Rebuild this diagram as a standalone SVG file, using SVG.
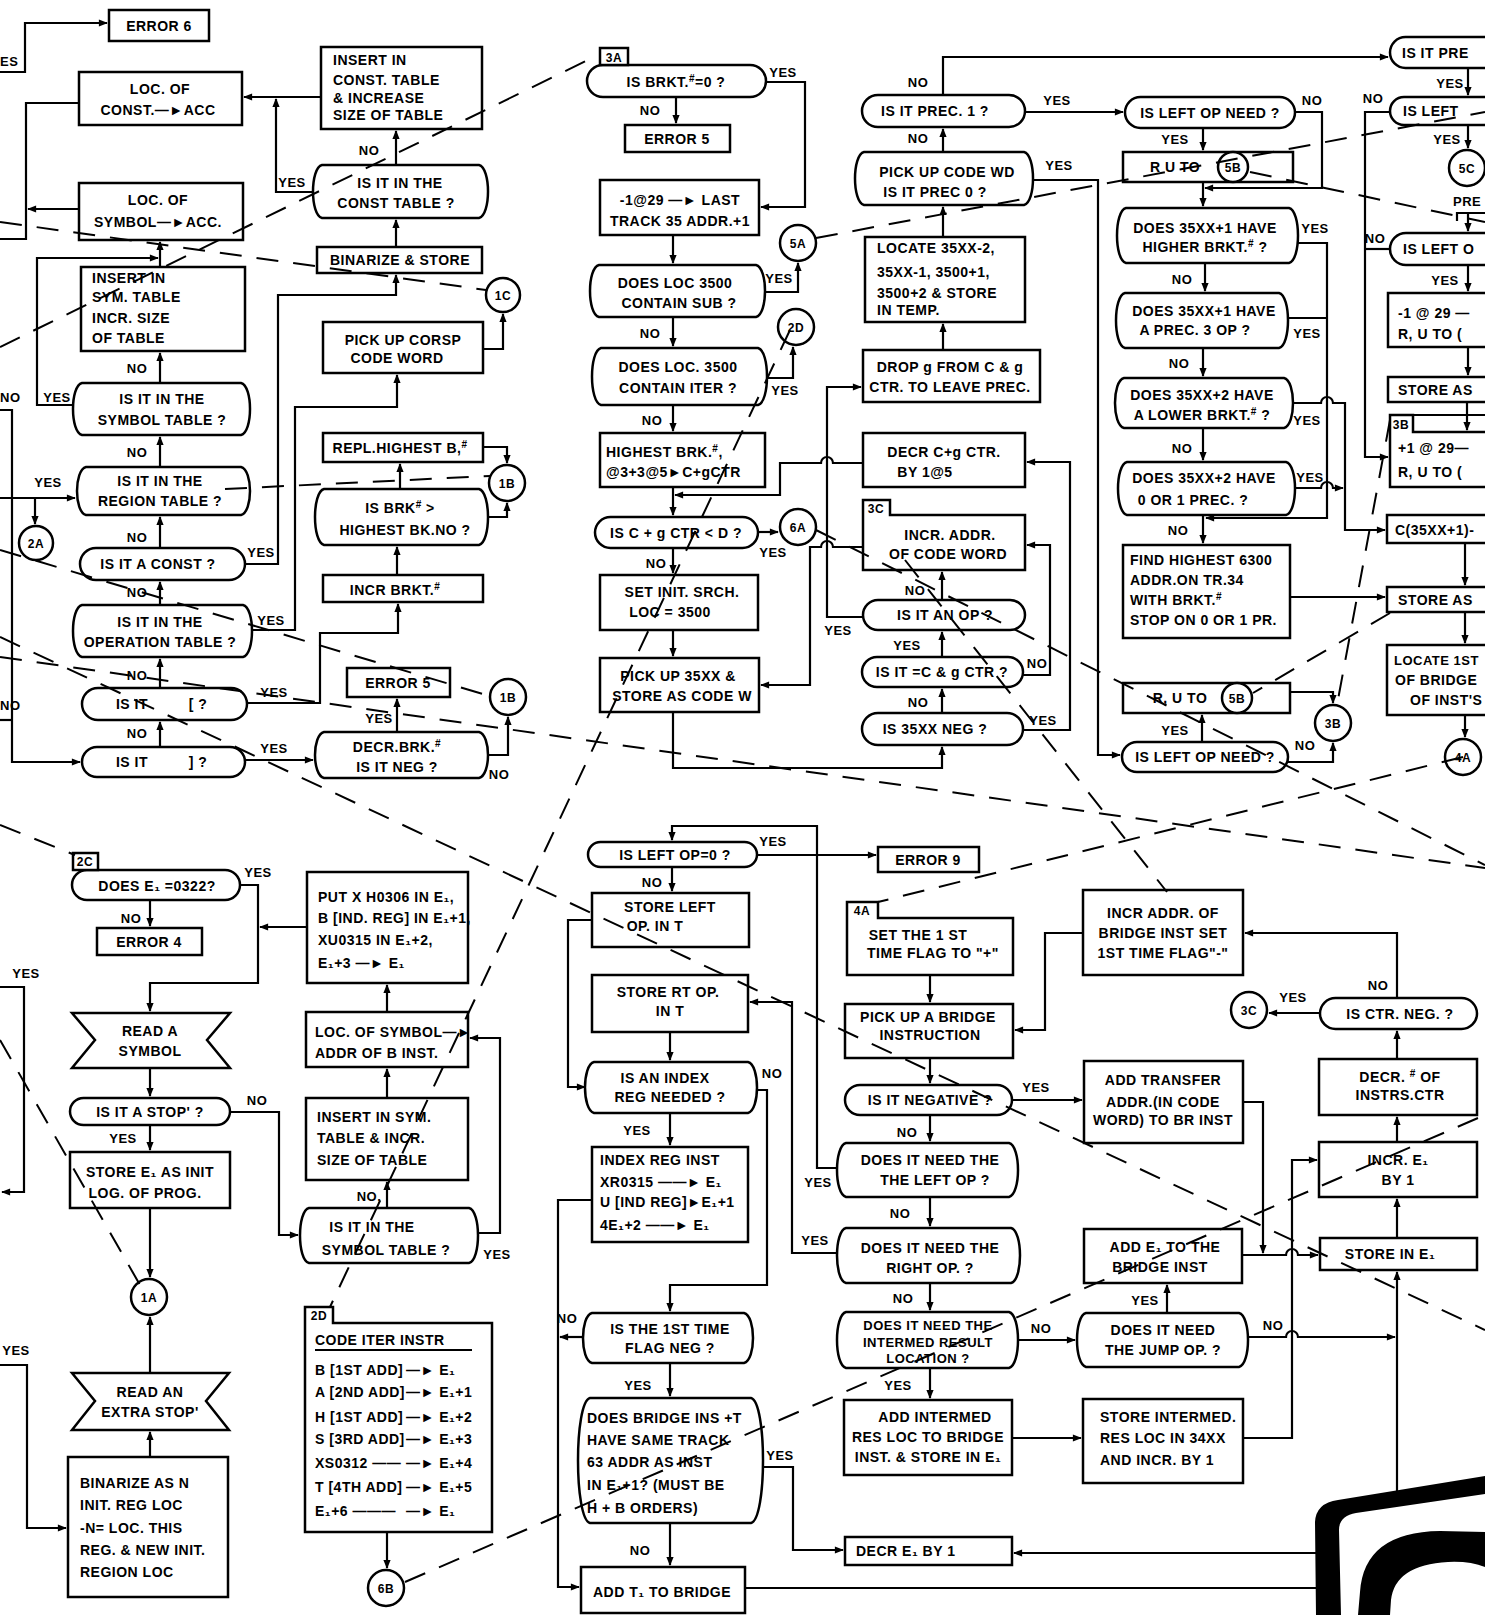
<svg xmlns="http://www.w3.org/2000/svg" width="1485" height="1615" viewBox="0 0 1485 1615">
<defs>
<style>
.b{fill:#fff;stroke:#000;stroke-width:2.5}
.c{fill:none;stroke:#000;stroke-width:2.2}
.ca{fill:none;stroke:#000;stroke-width:2.2;marker-end:url(#a)}
.d{fill:none;stroke:#000;stroke-width:2;stroke-dasharray:22 15}
text{font-family:"Liberation Sans","DejaVu Sans",Arial,sans-serif;font-weight:bold;font-size:14px;fill:#000;letter-spacing:.5px}
.m{text-anchor:middle}
.l{font-size:13px}
.k{font-size:12px}
.s{font-size:10px}
</style>
<marker id="a" viewBox="0 0 10 10" refX="9" refY="5" markerWidth="10" markerHeight="9" markerUnits="userSpaceOnUse" orient="auto"><path d="M0,1 L10,5 L0,9 Z"/></marker>
</defs>
<rect width="1485" height="1615" fill="#fff"/>

<!-- ============ NODES ============ -->
<g id="n-error6"><rect class="b" x="109" y="10" width="100" height="31"/><text class="m" x="159" y="31">ERROR 6</text></g>
<g id="n-locconst"><rect class="b" x="79" y="72" width="163" height="53"/><text class="m" x="160" y="94">LOC. OF</text><text class="m" x="158" y="115">CONST.—►ACC</text></g>
<g id="n-insconst"><rect class="b" x="321" y="47" width="161" height="82"/><text x="333" y="65">INSERT IN</text><text x="333" y="85">CONST. TABLE</text><text x="333" y="103">&amp; INCREASE</text><text x="333" y="120">SIZE OF TABLE</text></g>
<g id="n-constq"><path class="b" d="M322,165 H479 C491,168 491,215 479,218 H322 C310,215 310,168 322,165Z"/><text class="m" x="400" y="188">IS IT IN THE</text><text class="m" x="396" y="208">CONST TABLE ?</text></g>
<g id="n-binarize"><rect class="b" x="317" y="247" width="165" height="26"/><text class="m" x="400" y="265">BINARIZE &amp; STORE</text></g>
<g id="n-locsym"><rect class="b" x="79" y="183" width="164" height="57"/><text class="m" x="158" y="205">LOC. OF</text><text class="m" x="158" y="227">SYMBOL—►ACC.</text></g>
<g id="n-inssym"><rect class="b" x="81" y="267" width="164" height="84"/><text x="92" y="283">INSERT IN</text><text x="92" y="302">SYM. TABLE</text><text x="92" y="323">INCR. SIZE</text><text x="92" y="343">OF TABLE</text></g>
<g id="n-symq"><path class="b" d="M82,383 H241 C253,386 253,432 241,435 H82 C70,432 70,386 82,383Z"/><text class="m" x="162" y="404">IS IT IN THE</text><text class="m" x="162" y="425">SYMBOL TABLE ?</text></g>
<g id="n-regq"><path class="b" d="M86,467 H241 C253,470 253,512 241,515 H86 C74,512 74,470 86,467Z"/><text class="m" x="160" y="486">IS IT IN THE</text><text class="m" x="160" y="506">REGION TABLE ?</text></g>
<g id="n-constp"><rect class="b" x="80" y="548" width="165" height="32" rx="16"/><text class="m" x="158" y="569">IS IT A CONST ?</text></g>
<g id="n-opq"><path class="b" d="M82,605 H243 C255,608 255,654 243,657 H82 C70,654 70,608 82,605Z"/><text class="m" x="160" y="627">IS IT IN THE</text><text class="m" x="160" y="647">OPERATION TABLE ?</text></g>
<g id="n-lbr"><rect class="b" x="82" y="688" width="165" height="32" rx="16"/><text class="m" x="132" y="709">IS IT</text><text class="m" x="198" y="709">[ ?</text></g>
<g id="n-rbr"><rect class="b" x="82" y="747" width="163" height="30" rx="15"/><text class="m" x="132" y="767">IS IT</text><text class="m" x="198" y="767">] ?</text></g>
<g id="n-corsp"><rect class="b" x="323" y="322" width="160" height="51"/><text class="m" x="403" y="345">PICK UP CORSP</text><text class="m" x="397" y="363">CODE WORD</text></g>
<g id="n-repl"><rect class="b" x="323" y="433" width="160" height="29"/><text class="m" x="400" y="453">REPL.HIGHEST B,<tspan class="s" dy="-5">#</tspan></text></g>
<g id="n-brkq"><path class="b" d="M324,489 H479 C491,492 491,542 479,545 H324 C312,542 312,492 324,489Z"/><text class="m" x="400" y="513">IS BRK<tspan class="s" dy="-5">#</tspan><tspan dy="5"> &gt;</tspan></text><text class="m" x="405" y="535">HIGHEST BK.NO ?</text></g>
<g id="n-incrbrkt"><rect class="b" x="323" y="575" width="160" height="27"/><text class="m" x="395" y="595">INCR BRKT.<tspan class="s" dy="-5">#</tspan></text></g>
<g id="n-err5a"><rect class="b" x="347" y="668" width="103" height="29"/><text class="m" x="398" y="688">ERROR 5</text></g>
<g id="n-decrbrk"><path class="b" d="M324,732 H479 C491,735 491,775 479,778 H324 C312,775 312,735 324,732Z"/><text class="m" x="397" y="752">DECR.BRK.<tspan class="s" dy="-5">#</tspan></text><text class="m" x="397" y="772">IS IT NEG ?</text></g>
<g id="n-c1c"><circle class="b" cx="503" cy="295" r="17"/><text class="m k" x="503" y="300">1C</text></g>
<g id="n-c1b"><circle class="b" cx="507" cy="483" r="18"/><text class="m k" x="507" y="488">1B</text></g>
<g id="n-c1b2"><circle class="b" cx="508" cy="697" r="18"/><text class="m k" x="508" y="702">1B</text></g>
<g id="n-c2a"><circle class="b" cx="36" cy="543" r="17"/><text class="m k" x="36" y="548">2A</text></g>

<g id="n-brkt0"><rect class="b" x="587" y="65" width="179" height="32" rx="16"/><rect class="b" x="600" y="48" width="28" height="17"/><text class="m k" x="614" y="62">3A</text><text class="m" x="676" y="87">IS BRKT.<tspan class="s" dy="-5">#</tspan><tspan dy="5">=0 ?</tspan></text></g>
<g id="n-err5b"><rect class="b" x="625" y="125" width="105" height="27"/><text class="m" x="677" y="144">ERROR 5</text></g>
<g id="n-m129"><rect class="b" x="600" y="180" width="159" height="55"/><text class="m" x="680" y="205">-1@29 —► LAST</text><text class="m" x="680" y="226">TRACK 35 ADDR.+1</text></g>
<g id="n-subq"><path class="b" d="M599,265 H756 C768,268 768,314 756,317 H599 C587,314 587,268 599,265Z"/><text class="m" x="675" y="288">DOES LOC 3500</text><text class="m" x="679" y="308">CONTAIN SUB ?</text></g>
<g id="n-iterq"><path class="b" d="M601,348 H758 C770,351 770,402 758,405 H601 C589,402 589,351 601,348Z"/><text class="m" x="678" y="372">DOES LOC. 3500</text><text class="m" x="678" y="393">CONTAIN ITER ?</text></g>
<g id="n-c5a"><circle class="b" cx="798" cy="243" r="18"/><text class="m k" x="798" y="248">5A</text></g>
<g id="n-c2d"><circle class="b" cx="796" cy="327" r="18"/><text class="m k" x="796" y="332">2D</text></g>
<g id="n-highest"><rect class="b" x="600" y="433" width="165" height="54"/><text x="606" y="457">HIGHEST  BRK.<tspan class="s" dy="-5">#</tspan><tspan dy="5">,</tspan></text><text x="606" y="477">@3+3@5►C+gCTR</text></g>
<g id="n-cgq"><rect class="b" x="595" y="517" width="163" height="31" rx="15.5"/><text class="m" x="676" y="538">IS C + g  CTR &lt; D ?</text></g>
<g id="n-c6a"><circle class="b" cx="798" cy="527" r="18"/><text class="m k" x="798" y="532">6A</text></g>
<g id="n-setinit"><rect class="b" x="600" y="575" width="158" height="55"/><text class="m" x="682" y="597">SET INIT. SRCH.</text><text class="m" x="670" y="617">LOC  = 3500</text></g>
<g id="n-pick35"><rect class="b" x="600" y="658" width="159" height="54"/><text class="m" x="678" y="681">PICK UP 35XX &amp;</text><text class="m" x="682" y="701">STORE AS CODE W</text></g>

<g id="n-prec1"><rect class="b" x="862" y="95" width="163" height="32" rx="16"/><text class="m" x="935" y="116">IS IT PREC. 1 ?</text></g>
<g id="n-prec0"><path class="b" d="M864,152 H1024 C1036,155 1036,202 1024,205 H864 C852,202 852,155 864,152Z"/><text class="m" x="947" y="177">PICK UP CODE WD</text><text class="m" x="935" y="197">IS IT PREC 0 ?</text></g>
<g id="n-locate"><rect class="b" x="865" y="237" width="160" height="85"/><text x="877" y="253">LOCATE 35XX-2,</text><text x="877" y="277">35XX-1, 3500+1,</text><text x="877" y="298">3500+2 &amp; STORE</text><text x="877" y="315">IN TEMP.</text></g>
<g id="n-drop"><rect class="b" x="863" y="350" width="177" height="52"/><text class="m" x="950" y="372">DROP g FROM C &amp; g</text><text class="m" x="950" y="392">CTR. TO LEAVE PREC.</text></g>
<g id="n-decrcg"><rect class="b" x="863" y="433" width="162" height="54"/><text class="m" x="944" y="457">DECR  C+g  CTR.</text><text class="m" x="925" y="477">BY 1@5</text></g>
<g id="n-incraddr"><path class="b" d="M863,570 V500 H890 V515 H1025 V570 Z"/><text class="m k" x="876" y="513">3C</text><text class="m" x="950" y="540">INCR. ADDR.</text><text class="m" x="948" y="559">OF CODE WORD</text></g>
<g id="n-anop"><rect class="b" x="863" y="600" width="162" height="30" rx="15"/><text class="m" x="945" y="620">IS IT AN OP ?</text></g>
<g id="n-cgctr"><rect class="b" x="862" y="657" width="161" height="30" rx="15"/><text class="m" x="942" y="677">IS IT =C &amp; g CTR ?</text></g>
<g id="n-neg35"><rect class="b" x="862" y="713" width="161" height="32" rx="16"/><text class="m" x="935" y="734">IS 35XX NEG ?</text></g>

<g id="n-leftop1"><rect class="b" x="1125" y="97" width="170" height="31" rx="15.5"/><text class="m" x="1210" y="118">IS LEFT OP NEED ?</text></g>
<g id="n-ruto1"><rect class="b" x="1123" y="152" width="170" height="30"/><text class="m" x="1175" y="172">R U TO</text><circle class="b" cx="1233" cy="167" r="15"/><text class="m k" x="1233" y="172">5B</text></g>
<g id="n-higher"><path class="b" d="M1126,208 H1289 C1301,211 1301,260 1289,263 H1126 C1114,260 1114,211 1126,208Z"/><text class="m" x="1205" y="233">DOES 35XX+1 HAVE</text><text class="m" x="1205" y="252">HIGHER BRKT.<tspan class="s" dy="-5">#</tspan><tspan dy="5"> ?</tspan></text></g>
<g id="n-prec3"><path class="b" d="M1125,293 H1279 C1291,296 1291,345 1279,348 H1125 C1113,345 1113,296 1125,293Z"/><text class="m" x="1204" y="316">DOES 35XX+1 HAVE</text><text class="m" x="1195" y="335">A PREC. 3  OP ?</text></g>
<g id="n-lower"><path class="b" d="M1124,378 H1284 C1296,381 1296,425 1284,428 H1124 C1112,425 1112,381 1124,378Z"/><text class="m" x="1202" y="400">DOES 35XX+2 HAVE</text><text class="m" x="1202" y="420">A LOWER BRKT.<tspan class="s" dy="-5">#</tspan><tspan dy="5"> ?</tspan></text></g>
<g id="n-zeroone"><path class="b" d="M1127,462 H1286 C1298,465 1298,512 1286,515 H1127 C1115,512 1115,465 1127,462Z"/><text class="m" x="1204" y="483">DOES 35XX+2 HAVE</text><text class="m" x="1193" y="505">0 OR 1 PREC. ?</text></g>
<g id="n-find"><rect class="b" x="1123" y="545" width="167" height="93"/><text x="1130" y="565">FIND HIGHEST 6300</text><text x="1130" y="585">ADDR.ON TR.34</text><text x="1130" y="605">WITH   BRKT.<tspan class="s" dy="-5">#</tspan></text><text x="1130" y="625">STOP ON 0 OR 1 PR.</text></g>
<g id="n-ruto2"><rect class="b" x="1123" y="683" width="167" height="30"/><text class="m" x="1180" y="703">R, U TO</text><circle class="b" cx="1237" cy="698" r="15"/><text class="m k" x="1237" y="703">5B</text></g>
<g id="n-leftop2"><rect class="b" x="1122" y="742" width="166" height="30" rx="15"/><text class="m" x="1205" y="762">IS LEFT OP NEED ?</text></g>
<g id="n-c3b"><circle class="b" cx="1333" cy="723" r="18"/><text class="m k" x="1333" y="728">3B</text></g>

<g id="n-fr1"><rect class="b" x="1390" y="37" width="140" height="31" rx="15.5"/><text x="1402" y="58">IS IT PRE</text></g>
<g id="n-fr2"><rect class="b" x="1390" y="97" width="140" height="28" rx="14"/><text x="1403" y="116">IS LEFT</text></g>
<g id="n-c5c"><circle class="b" cx="1467" cy="168" r="18"/><text class="m k" x="1467" y="173">5C</text></g>
<g id="n-fr3"><text class="l" x="1453" y="206" letter-spacing="0">PRE</text></g>
<g id="n-fr4"><rect class="b" x="1390" y="233" width="140" height="32" rx="16"/><text x="1403" y="254">IS LEFT O</text></g>
<g id="n-fr5"><rect class="b" x="1388" y="293" width="150" height="54"/><text x="1398" y="318">-1 @ 29 —</text><text x="1398" y="339">R, U  TO  (</text></g>
<g id="n-fr6"><rect class="b" x="1388" y="377" width="150" height="25"/><text x="1398" y="395">STORE  AS</text></g>
<g id="n-fr7"><path class="b" d="M1535,432 H1413 V415 H1390 V487 H1535"/><text class="m k" x="1401" y="429">3B</text><text x="1398" y="453">+1 @ 29—</text><text x="1398" y="477">R, U  TO  (</text></g>
<g id="n-fr8"><rect class="b" x="1387" y="515" width="150" height="28"/><text x="1395" y="535">C(35XX+1)-</text></g>
<g id="n-fr9"><rect class="b" x="1387" y="587" width="150" height="25"/><text x="1398" y="605">STORE  AS</text></g>
<g id="n-fr10"><rect class="b" x="1387" y="645" width="150" height="70"/><text class="l" x="1394" y="665" letter-spacing="0">LOCATE 1ST</text><text x="1395" y="685">OF BRIDGE</text><text x="1410" y="705">OF INST'S</text></g>
<g id="n-c4a"><circle class="b" cx="1463" cy="757" r="18"/><text class="m k" x="1463" y="762">4A</text></g>

<g id="n-e0322"><rect class="b" x="72" y="870" width="168" height="30" rx="15"/><rect class="b" x="73" y="853" width="25" height="17"/><text class="m k" x="85" y="866">2C</text><text class="m" x="157" y="891">DOES E₁ =0322?</text></g>
<g id="n-err4"><rect class="b" x="97" y="928" width="105" height="27"/><text class="m" x="149" y="947">ERROR 4</text></g>
<g id="n-readsym"><path class="b" d="M72,1013 H230 L207,1040 L230,1068 H72 L95,1040 Z"/><text class="m" x="150" y="1036">READ A</text><text class="m" x="150" y="1056">SYMBOL</text></g>
<g id="n-stopq"><rect class="b" x="70" y="1098" width="160" height="27" rx="13.5"/><text class="m" x="150" y="1117">IS IT A STOP' ?</text></g>
<g id="n-storee1"><rect class="b" x="70" y="1152" width="160" height="56"/><text class="m" x="150" y="1177">STORE E₁ AS INIT</text><text class="m" x="145" y="1198">LOG. OF PROG.</text></g>
<g id="n-c1a"><circle class="b" cx="149" cy="1297" r="18"/><text class="m k" x="149" y="1302">1A</text></g>
<g id="n-readextra"><path class="b" d="M72,1373 H229 L206,1401 L229,1430 H72 L95,1401 Z"/><text class="m" x="150" y="1397">READ AN</text><text class="m" x="150" y="1417">EXTRA STOP'</text></g>
<g id="n-binn"><rect class="b" x="68" y="1457" width="160" height="140"/><text x="80" y="1488">BINARIZE AS N</text><text x="80" y="1510">INIT. REG LOC</text><text x="80" y="1533">-N= LOC. THIS</text><text x="80" y="1555">REG. &amp; NEW INIT.</text><text x="80" y="1577">REGION LOC</text></g>
<g id="n-putx"><rect class="b" x="307" y="872" width="161" height="111"/><text x="318" y="902">PUT X H0306 IN E₁,</text><text x="318" y="923" letter-spacing="0">B [IND. REG] IN E₁+1,</text><text x="318" y="945">XU0315 IN E₁+2,</text><text x="318" y="968">E₁+3 —► E₁</text></g>
<g id="n-locsym2"><rect class="b" x="306" y="1012" width="162" height="55"/><text x="315" y="1037">LOC. OF SYMBOL—►</text><text x="315" y="1058">ADDR OF B INST.</text></g>
<g id="n-inssym2"><rect class="b" x="306" y="1098" width="162" height="82"/><text x="317" y="1122">INSERT IN SYM.</text><text x="317" y="1143">TABLE &amp; INCR.</text><text x="317" y="1165">SIZE OF TABLE</text></g>
<g id="n-symq2"><path class="b" d="M309,1208 H469 C481,1211 481,1260 469,1263 H309 C297,1260 297,1211 309,1208Z"/><text class="m" x="372" y="1232">IS IT IN THE</text><text class="m" x="386" y="1255">SYMBOL TABLE ?</text></g>
<g id="n-iter"><path class="b" d="M305,1532 V1307 H333 V1323 H492 V1532 Z"/><text class="m k" x="319" y="1320">2D</text><text x="315" y="1345">CODE ITER INSTR</text><line x1="315" y1="1350" x2="472" y2="1350" stroke="#000" stroke-width="2"/>
<text x="315" y="1375">B [1ST ADD]</text><text x="406" y="1375">—► E₁</text>
<text x="315" y="1397">A [2ND ADD]</text><text x="406" y="1397">—► E₁+1</text>
<text x="315" y="1422">H [1ST ADD]</text><text x="406" y="1422">—► E₁+2</text>
<text x="315" y="1444">S [3RD ADD]</text><text x="406" y="1444">—► E₁+3</text>
<text x="315" y="1468">XS0312 ——</text><text x="406" y="1468">—► E₁+4</text>
<text x="315" y="1492">T [4TH ADD]</text><text x="406" y="1492">—► E₁+5</text>
<text x="315" y="1516">E₁+6 ———</text><text x="406" y="1516">—► E₁</text></g>
<g id="n-c6b"><circle class="b" cx="386" cy="1588" r="18"/><text class="m k" x="386" y="1593">6B</text></g>

<g id="n-leftop0"><rect class="b" x="588" y="842" width="169" height="25" rx="12.5"/><text class="m" x="675" y="860">IS LEFT OP=0 ?</text></g>
<g id="n-err9"><rect class="b" x="878" y="847" width="101" height="25"/><text class="m" x="928" y="865">ERROR 9</text></g>
<g id="n-storeleft"><rect class="b" x="592" y="893" width="157" height="54"/><text class="m" x="670" y="912">STORE  LEFT</text><text class="m" x="655" y="931">OP.  IN  T</text></g>
<g id="n-storert"><rect class="b" x="592" y="975" width="156" height="57"/><text class="m" x="668" y="997">STORE  RT  OP.</text><text class="m" x="670" y="1016">IN T</text></g>
<g id="n-indexq"><path class="b" d="M594,1062 H748 C760,1065 760,1110 748,1113 H594 C582,1110 582,1065 594,1062Z"/><text class="m" x="665" y="1083">IS AN INDEX</text><text class="m" x="670" y="1102">REG NEEDED ?</text></g>
<g id="n-indexinst"><rect class="b" x="592" y="1147" width="156" height="95"/><text x="600" y="1165">INDEX REG INST</text><text x="600" y="1187">XR0315 ——► E₁</text><text x="600" y="1207">U [IND REG]►E₁+1</text><text x="600" y="1230">4E₁+2 ——► E₁</text></g>
<g id="n-flagq"><path class="b" d="M592,1313 H744 C756,1316 756,1360 744,1363 H592 C580,1360 580,1316 592,1313Z"/><text class="m" x="670" y="1334">IS THE 1ST TIME</text><text class="m" x="670" y="1353">FLAG NEG ?</text></g>
<g id="n-bridgeq"><path class="b" d="M590,1398 H751 C767,1402 767,1519 751,1523 H590 C574,1519 574,1402 590,1398Z"/><text x="587" y="1423">DOES BRIDGE INS +T</text><text x="587" y="1445">HAVE SAME TRACK</text><text x="587" y="1467">63 ADDR AS INST</text><text x="587" y="1490">IN E₁+1? (MUST BE</text><text x="587" y="1513">H + B ORDERS)</text></g>
<g id="n-addt1"><rect class="b" x="581" y="1567" width="164" height="46"/><text class="m" x="662" y="1597">ADD T₁ TO BRIDGE</text></g>
<g id="n-decre1"><rect class="b" x="845" y="1537" width="167" height="28"/><text x="856" y="1556">DECR  E₁  BY 1</text></g>

<g id="n-setflag"><path class="b" d="M847,975 V902 H878 V918 H1013 V975 Z"/><text class="m k" x="862" y="915">4A</text><text class="m" x="918" y="940">SET THE 1 ST</text><text class="m" x="933" y="958">TIME FLAG TO "+"</text></g>
<g id="n-pickbridge"><rect class="b" x="845" y="1004" width="168" height="54"/><text class="m" x="928" y="1022">PICK UP A BRIDGE</text><text class="m" x="930" y="1040">INSTRUCTION</text></g>
<g id="n-negq"><rect class="b" x="845" y="1085" width="167" height="30" rx="15"/><text class="m" x="930" y="1105">IS IT NEGATIVE ?</text></g>
<g id="n-leftq"><path class="b" d="M846,1143 H1009 C1021,1146 1021,1194 1009,1197 H846 C834,1194 834,1146 846,1143Z"/><text class="m" x="930" y="1165">DOES IT NEED THE</text><text class="m" x="935" y="1185">THE LEFT OP ?</text></g>
<g id="n-rightq"><path class="b" d="M846,1228 H1011 C1023,1231 1023,1280 1011,1283 H846 C834,1280 834,1231 846,1228Z"/><text class="m" x="930" y="1253">DOES IT NEED THE</text><text class="m" x="930" y="1273">RIGHT OP. ?</text></g>
<g id="n-interq"><path class="b" d="M846,1312 H1009 C1021,1315 1021,1365 1009,1368 H846 C834,1365 834,1315 846,1312Z"/><text class="m l" x="928" y="1330">DOES IT NEED THE</text><text class="m l" x="928" y="1347">INTERMED RESULT</text><text class="m l" x="928" y="1363">LOCATION ?</text></g>
<g id="n-addinter"><rect class="b" x="844" y="1400" width="168" height="75"/><text class="m" x="935" y="1422">ADD INTERMED</text><text class="m" x="928" y="1442">RES LOC TO BRIDGE</text><text class="m" x="928" y="1462">INST. &amp; STORE IN E₁</text></g>
<g id="n-incrbridge"><rect class="b" x="1083" y="890" width="160" height="85"/><text class="m" x="1163" y="918">INCR  ADDR. OF</text><text class="m" x="1163" y="938">BRIDGE INST SET</text><text class="m" x="1163" y="958">1ST TIME FLAG"-"</text></g>
<g id="n-c3c"><circle class="b" cx="1249" cy="1010" r="18"/><text class="m k" x="1249" y="1015">3C</text></g>
<g id="n-ctrq"><rect class="b" x="1320" y="998" width="157" height="31" rx="15.5"/><text class="m" x="1400" y="1019">IS CTR. NEG. ?</text></g>
<g id="n-decrinst"><rect class="b" x="1319" y="1059" width="158" height="56"/><text class="m" x="1400" y="1082">DECR. <tspan class="s" dy="-5">#</tspan><tspan dy="5"> OF</tspan></text><text class="m" x="1400" y="1100">INSTRS.CTR</text></g>
<g id="n-addtrans"><rect class="b" x="1084" y="1061" width="159" height="82"/><text class="m" x="1163" y="1085">ADD TRANSFER</text><text class="m" x="1163" y="1107">ADDR.(IN CODE</text><text class="m" x="1163" y="1125">WORD) TO BR INST</text></g>
<g id="n-incre1"><rect class="b" x="1319" y="1142" width="158" height="55"/><text class="m" x="1398" y="1165">INCR. E₁</text><text class="m" x="1398" y="1185">BY 1</text></g>
<g id="n-adde1"><rect class="b" x="1084" y="1229" width="158" height="54"/><text class="m" x="1165" y="1252">ADD E₁ TO THE</text><text class="m" x="1160" y="1272">BRIDGE INST</text></g>
<g id="n-storeine1"><rect class="b" x="1320" y="1238" width="157" height="32"/><text class="m" x="1390" y="1259">STORE IN E₁</text></g>
<g id="n-jumpq"><path class="b" d="M1086,1313 H1239 C1251,1316 1251,1364 1239,1367 H1086 C1074,1364 1074,1316 1086,1313Z"/><text class="m" x="1163" y="1335">DOES IT NEED</text><text class="m" x="1163" y="1355">THE JUMP OP. ?</text></g>
<g id="n-storeinter"><rect class="b" x="1083" y="1399" width="160" height="84"/><text x="1100" y="1422">STORE INTERMED.</text><text x="1100" y="1443">RES LOC IN 34XX</text><text x="1100" y="1465">AND INCR. BY 1</text></g>

<g id="n-blot">
<path d="M1316,1615 L1315,1522 Q1316,1503 1338,1500 L1485,1476 L1485,1494 L1356,1513 Q1339,1516 1339,1530 L1341,1615 Z" fill="#000"/>
<path d="M1358,1615 L1360,1592 Q1364,1532 1440,1531 L1485,1532 L1485,1567 Q1470,1561 1448,1562 Q1395,1565 1391,1600 L1390,1615 Z" fill="#000"/>
</g>

<!-- ============ CONNECTORS ============ -->
<g id="connectors">
<polyline class="ca" points="0,72 25,72 25,23 107,23"/>
<polyline class="ca" points="321,97 244,97"/>
<polyline class="ca" points="313,192 276,192 276,99"/>
<polyline class="ca" points="396,165 396,131"/>
<polyline class="ca" points="396,247 396,220"/>
<polyline class="ca" points="245,564 278,564 278,295 396,295 396,275"/>
<polyline class="c" points="79,103 26,103 26,239 0,239"/>
<polyline class="ca" points="79,209 28,209"/>
<polyline class="ca" points="160,267 160,242"/>
<polyline class="ca" points="73,405 37,405 37,258 158,258"/>
<polyline class="ca" points="160,383 160,353"/>
<polyline class="ca" points="160,467 160,437"/>
<polyline class="ca" points="0,498 75,498"/>
<polyline class="ca" points="35,498 35,524"/>
<polyline class="ca" points="160,548 160,517"/>
<polyline class="ca" points="160,605 160,582"/>
<polyline class="ca" points="252,630 295,630 295,407 397,407 397,375"/>
<polyline class="ca" points="160,688 160,659"/>
<polyline class="ca" points="247,703 320,703 320,633 398,633 398,604"/>
<polyline class="ca" points="160,747 160,722"/>
<polyline class="ca" points="245,760 313,760"/>
<polyline class="ca" points="0,410 12,410 12,762 80,762"/>
<polyline class="c" points="0,720 12,720"/>
<polyline class="ca" points="483,447 507,447 507,463"/>
<polyline class="ca" points="488,517 507,517 507,503"/>
<polyline class="ca" points="400,489 400,464"/>
<polyline class="ca" points="397,575 397,547"/>
<polyline class="ca" points="397,732 397,699"/>
<polyline class="ca" points="488,755 508,755 508,717"/>
<polyline class="ca" points="483,349 503,349 503,314"/>

<polyline class="ca" points="766,82 805,82 805,207 761,207"/>
<polyline class="ca" points="676,97 676,123"/>
<polyline class="ca" points="673,235 673,263"/>
<polyline class="ca" points="765,292 798,292 798,263"/>
<polyline class="ca" points="673,317 673,346"/>
<polyline class="ca" points="767,378 793,378 793,347"/>
<polyline class="ca" points="673,405 673,431"/>
<polyline class="ca" points="673,487 673,515"/>
<path class="ca" d="M863,463 H833 A6,6 0 0 0 821,463 H780 V495 H675"/>
<polyline class="ca" points="758,532 778,532"/>
<polyline class="ca" points="673,548 673,573"/>
<polyline class="ca" points="673,630 673,656"/>
<path class="ca" d="M863,547 H833 A6,6 0 0 0 821,547 H810 V685 H761"/>
<polyline class="ca" points="863,617 827,617 827,387 861,387"/>
<polyline class="ca" points="673,712 673,768 942,768 942,747"/>
<polyline class="ca" points="942,713 942,689"/>
<polyline class="ca" points="942,657 942,632"/>
<polyline class="ca" points="942,600 942,572"/>
<polyline class="ca" points="1023,675 1050,675 1050,545 1027,545"/>
<polyline class="ca" points="1023,730 1070,730 1070,462 1027,462"/>
<polyline class="ca" points="943,95 943,57 1388,57"/>
<polyline class="ca" points="1025,112 1123,112"/>
<polyline class="ca" points="943,152 943,129"/>
<polyline class="ca" points="943,237 943,207"/>
<polyline class="ca" points="943,350 943,324"/>
<polyline class="ca" points="1033,180 1098,180 1098,755 1120,755"/>

<polyline class="ca" points="1203,128 1203,150"/>
<polyline class="ca" points="1295,112 1322,112 1322,188 1205,188"/>
<polyline class="ca" points="1203,182 1203,206"/>
<polyline class="ca" points="1298,243 1327,243 1327,518 1206,518"/>
<polyline class="c" points="1288,318 1327,318"/>
<path class="ca" d="M1293,403 H1321 A6,6 0 0 1 1333,403 H1345 V530 H1385"/>
<path class="ca" d="M1295,488 H1321 A6,6 0 0 1 1333,488 H1343"/>
<polyline class="ca" points="1205,263 1205,291"/>
<polyline class="ca" points="1203,348 1203,376"/>
<polyline class="ca" points="1203,428 1203,460"/>
<polyline class="ca" points="1203,515 1203,543"/>
<polyline class="ca" points="1290,597 1385,597"/>
<polyline class="ca" points="1290,692 1333,692 1333,703"/>
<polyline class="ca" points="1202,742 1202,715"/>
<polyline class="ca" points="1288,762 1333,762 1333,743"/>

<polyline class="ca" points="1468,68 1468,95"/>
<polyline class="ca" points="1390,112 1365,112 1365,457 1388,457"/>
<polyline class="ca" points="1468,125 1468,148"/>
<polyline class="ca" points="1468,213 1468,231"/>
<polyline class="c" points="1457,221 1457,213 1485,213"/>
<polyline class="c" points="1390,249 1365,249"/>
<polyline class="ca" points="1468,265 1468,291"/>
<polyline class="ca" points="1468,347 1468,375"/>
<polyline class="ca" points="1467,402 1467,430"/>
<polyline class="c" points="1413,415 1485,415"/>
<polyline class="ca" points="1465,543 1465,585"/>
<polyline class="ca" points="1465,612 1465,643"/>
<polyline class="ca" points="1465,715 1465,737"/>

<polyline class="ca" points="240,885 258,885 258,983 150,983 150,1011"/>
<polyline class="ca" points="307,927 260,927"/>
<polyline class="ca" points="150,900 150,926"/>
<polyline class="ca" points="150,1068 150,1096"/>
<polyline class="ca" points="150,1125 150,1150"/>
<polyline class="ca" points="230,1112 279,1112 279,1235 298,1235"/>
<polyline class="ca" points="150,1208 150,1277"/>
<polyline class="ca" points="150,1373 150,1317"/>
<polyline class="ca" points="150,1457 150,1432"/>
<polyline class="ca" points="0,1365 27,1365 27,1528 66,1528"/>
<polyline class="ca" points="0,987 24,987 24,1192 2,1192"/>
<polyline class="ca" points="387,1012 387,985"/>
<polyline class="ca" points="387,1098 387,1069"/>
<polyline class="ca" points="387,1208 387,1182"/>
<polyline class="ca" points="478,1233 500,1233 500,1038 470,1038"/>
<polyline class="ca" points="387,1532 387,1568"/>

<polyline class="ca" points="757,855 876,855"/>
<polyline class="ca" points="837,1168 817,1168 817,826 672,826 672,840"/>
<polyline class="ca" points="672,867 672,891"/>
<polyline class="ca" points="592,920 568,920 568,1087 585,1087"/>
<polyline class="ca" points="670,1032 670,1060"/>
<polyline class="ca" points="837,1253 792,1253 792,1002 750,1002"/>
<polyline class="ca" points="757,1090 767,1090 767,1285 670,1285 670,1311"/>
<polyline class="ca" points="670,1113 670,1145"/>
<polyline class="ca" points="592,1200 558,1200 558,1587 579,1587"/>
<polyline class="ca" points="583,1337 560,1337"/>
<polyline class="ca" points="670,1363 670,1396"/>
<polyline class="ca" points="763,1467 793,1467 793,1550 843,1550"/>
<polyline class="ca" points="670,1523 670,1565"/>
<polyline class="c" points="745,1588 1322,1588"/>
<polyline class="ca" points="1318,1553 1014,1553"/>

<polyline class="ca" points="930,975 930,1002"/>
<polyline class="ca" points="1083,933 1045,933 1045,1030 1015,1030"/>
<polyline class="ca" points="930,1058 930,1083"/>
<polyline class="ca" points="1012,1100 1082,1100"/>
<polyline class="ca" points="930,1115 930,1141"/>
<polyline class="ca" points="930,1197 930,1226"/>
<polyline class="ca" points="930,1283 930,1310"/>
<polyline class="ca" points="930,1368 930,1398"/>
<polyline class="ca" points="1018,1340 1075,1340"/>
<polyline class="ca" points="1012,1438 1081,1438"/>
<polyline class="ca" points="1167,1313 1167,1285"/>
<path class="ca" d="M1242,1255 H1286 A6,6 0 0 1 1298,1255 H1318"/>
<polyline class="ca" points="1243,1102 1263,1102 1263,1253"/>
<path class="ca" d="M1248,1337 H1286 A6,6 0 0 1 1298,1337 H1395"/>
<polyline class="ca" points="1243,1438 1292,1438 1292,1160 1317,1160"/>
<polyline class="ca" points="1397,1491 1397,1272"/>
<polyline class="ca" points="1397,1238 1397,1199"/>
<polyline class="ca" points="1397,1142 1397,1117"/>
<polyline class="ca" points="1397,1059 1397,1031"/>
<polyline class="ca" points="1320,1013 1269,1013"/>
<polyline class="ca" points="1397,998 1397,933 1245,933"/>
</g>

<!-- ============ LABELS ============ -->
<g id="labels">
<text class="l" x="0" y="66" letter-spacing="0">ES</text>
<text class="m l" x="369" y="155">NO</text>
<text class="m l" x="292" y="187">YES</text>
<text class="m l" x="137" y="373">NO</text>
<text class="m l" x="57" y="402">YES</text>
<text class="l" x="0" y="402" letter-spacing="0">NO</text>
<text class="m l" x="137" y="457">NO</text>
<text class="m l" x="48" y="487">YES</text>
<text class="m l" x="137" y="542">NO</text>
<text class="m l" x="261" y="557">YES</text>
<text class="m l" x="137" y="597">NO</text>
<text class="m l" x="271" y="625">YES</text>
<text class="m l" x="137" y="680">NO</text>
<text class="m l" x="274" y="697">YES</text>
<text class="l" x="0" y="710" letter-spacing="0">NO</text>
<text class="m l" x="137" y="738">NO</text>
<text class="m l" x="274" y="753">YES</text>
<text class="m l" x="379" y="723">YES</text>
<text class="m l" x="499" y="779">NO</text>
<text class="m l" x="783" y="77">YES</text>
<text class="m l" x="650" y="115">NO</text>
<text class="m l" x="779" y="283">YES</text>
<text class="m l" x="650" y="338">NO</text>
<text class="m l" x="785" y="395">YES</text>
<text class="m l" x="652" y="425">NO</text>
<text class="m l" x="773" y="557">YES</text>
<text class="m l" x="656" y="568">NO</text>
<text class="m l" x="918" y="87">NO</text>
<text class="m l" x="1057" y="105">YES</text>
<text class="m l" x="918" y="143">NO</text>
<text class="m l" x="1059" y="170">YES</text>
<text class="m l" x="915" y="595">NO</text>
<text class="m l" x="838" y="635">YES</text>
<text class="m l" x="907" y="650">YES</text>
<text class="m l" x="918" y="707">NO</text>
<text class="m l" x="1037" y="668">NO</text>
<text class="m l" x="1043" y="725">YES</text>
<text class="m l" x="1312" y="105">NO</text>
<text class="m l" x="1175" y="144">YES</text>
<text class="m l" x="1315" y="233">YES</text>
<text class="m l" x="1182" y="284">NO</text>
<text class="m l" x="1307" y="338">YES</text>
<text class="m l" x="1179" y="368">NO</text>
<text class="m l" x="1307" y="425">YES</text>
<text class="m l" x="1182" y="453">NO</text>
<text class="m l" x="1310" y="482">YES</text>
<text class="m l" x="1178" y="535">NO</text>
<text class="m l" x="1175" y="735">YES</text>
<text class="m l" x="1305" y="750">NO</text>
<text class="m l" x="1450" y="88">YES</text>
<text class="m l" x="1373" y="103">NO</text>
<text class="m l" x="1447" y="144">YES</text>
<text class="m l" x="1375" y="243">NO</text>
<text class="m l" x="1445" y="285">YES</text>
<text class="m l" x="26" y="978">YES</text>
<text class="m l" x="258" y="877">YES</text>
<text class="m l" x="131" y="923">NO</text>
<text class="m l" x="257" y="1105">NO</text>
<text class="m l" x="123" y="1143">YES</text>
<text class="m l" x="16" y="1355">YES</text>
<text class="m l" x="369" y="1201">NO,</text>
<text class="m l" x="497" y="1259">YES</text>
<text class="m l" x="773" y="846">YES</text>
<text class="m l" x="652" y="887">NO</text>
<text class="m l" x="772" y="1078">NO</text>
<text class="m l" x="637" y="1135">YES</text>
<text class="m l" x="567" y="1323">NO</text>
<text class="m l" x="638" y="1390">YES</text>
<text class="m l" x="780" y="1460">YES</text>
<text class="m l" x="640" y="1555">NO</text>
<text class="m l" x="1036" y="1092">YES</text>
<text class="m l" x="907" y="1137">NO</text>
<text class="m l" x="818" y="1187">YES</text>
<text class="m l" x="900" y="1218">NO</text>
<text class="m l" x="815" y="1245">YES</text>
<text class="m l" x="903" y="1303">NO</text>
<text class="m l" x="1041" y="1333">NO</text>
<text class="m l" x="898" y="1390">YES</text>
<text class="m l" x="1378" y="990">NO</text>
<text class="m l" x="1293" y="1002">YES</text>
<text class="m l" x="1145" y="1305">YES</text>
<text class="m l" x="1273" y="1330">NO</text>
</g>

<!-- ============ DASHED OVERLAY LINES ============ -->
<g id="dashed">
<line class="d" x1="0" y1="222" x2="486" y2="290"/>
<line class="d" x1="0" y1="347" x2="592" y2="58"/>
<line class="d" x1="816" y1="238" x2="1485" y2="112"/>
<line class="d" x1="1250" y1="172" x2="1485" y2="222"/>
<line class="d" x1="0" y1="550" x2="493" y2="697"/>
<line class="d" x1="0" y1="657" x2="1485" y2="868"/>
<line class="d" x1="0" y1="637" x2="1485" y2="1330"/>
<line class="d" x1="790" y1="330" x2="330" y2="1307"/>
<line class="d" x1="405" y1="1582" x2="1485" y2="1115"/>
<line class="d" x1="1390" y1="613" x2="1253" y2="693"/>
<line class="d" x1="1390" y1="420" x2="1337" y2="705"/>
<line class="d" x1="1463" y1="757" x2="878" y2="902"/>
<line class="d" x1="816" y1="530" x2="1485" y2="865"/>
<line class="d" x1="905" y1="560" x2="1167" y2="892"/>
<line class="d" x1="0" y1="825" x2="75" y2="855"/>
<line class="d" x1="0" y1="1040" x2="140" y2="1285"/>
<line class="d" x1="225" y1="489" x2="490" y2="476"/>
</g>
</svg>
